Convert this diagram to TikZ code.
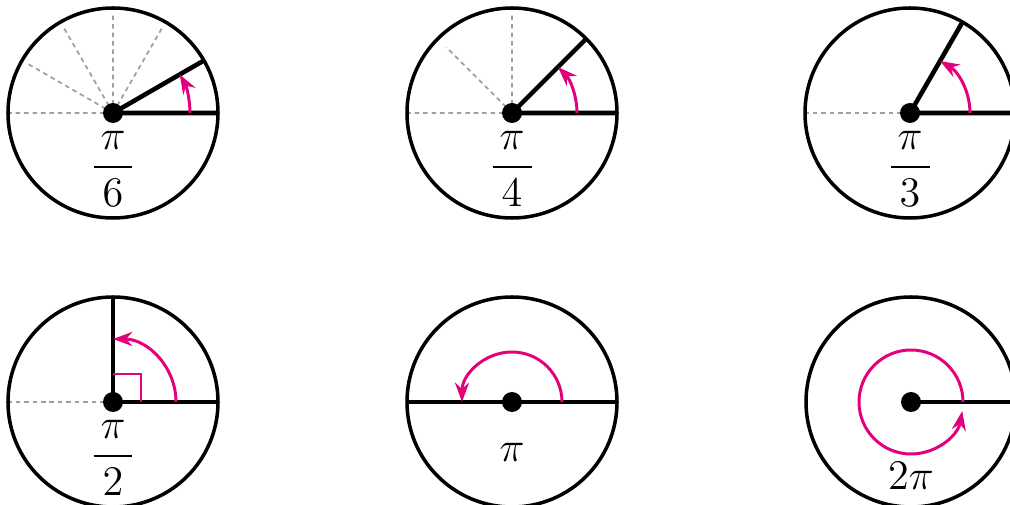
\documentclass[tikz,border=0pt]{standalone}
\usepackage{amsmath}
\usetikzlibrary{arrows.meta}
\definecolor{turnpink}{RGB}{228,0,124}

\begin{document}
\begin{tikzpicture}[
  rim/.style={line width=1pt},
  side/.style={line width=1.3pt},
  guide/.style={dash pattern=on 1.3pt off 1.1pt, gray!75, line width=0.5pt},
  turn/.style={turnpink, line width=0.85pt, -{Stealth[length=5.5pt,width=4pt]}},
  hub/.style={circle, fill, inner sep=0pt, minimum size=2mm},
  lbl/.style={font=\large}]

\useasboundingbox (0,0) rectangle (10.1,5.05);

% Centres
\coordinate (O1) at (1.13,3.92);
\coordinate (O2) at (5.12,3.92);
\coordinate (O3) at (9.10,3.92);
\coordinate (O4) at (1.13,1.03);
\coordinate (O5) at (5.12,1.03);
\coordinate (O6) at (9.11,1.03);

% pi/6
\draw[guide] (O1) -- ++(60:0.98) (O1) -- ++(90:0.98) (O1) -- ++(120:0.98)
  (O1) -- ++(150:0.98) (O1) -- ++(180:1.03);
\draw[rim] (O1) circle (1.05);
\draw[side] (O1) -- ++(0:1.05) (O1) -- ++(30:1.05);
\draw[turn] ([shift={(0:0.77)}]O1) arc (0:30:0.77);
\node[hub] (c1) at (O1) {};
\node[lbl] (l1) at ([yshift=-0.56cm]O1) {$\dfrac{\,\pi\,}{\,6\,}$};

% pi/4
\draw[guide] (O2) -- ++(90:0.98) (O2) -- ++(135:0.93) (O2) -- ++(180:1.03);
\draw[rim] (O2) circle (1.05);
\draw[side] (O2) -- ++(0:1.05) (O2) -- ++(45:1.05);
\draw[turn] ([shift={(0:0.65)}]O2) arc (0:45:0.65);
\node[hub] (c2) at (O2) {};
\node[lbl] (l2) at ([yshift=-0.56cm]O2) {$\dfrac{\,\pi\,}{\,4\,}$};

% pi/3
\draw[guide] (O3) -- ++(180:1.03);
\draw[rim] (O3) circle (1.05);
\draw[side] (O3) -- ++(0:1.05) (O3) -- ++(60:1.05);
\draw[turn] ([shift={(0:0.6)}]O3) arc (0:60:0.6);
\node[hub] (c3) at (O3) {};
\node[lbl] (l3) at ([yshift=-0.56cm]O3) {$\dfrac{\,\pi\,}{\,3\,}$};

% pi/2
\draw[guide] (O4) -- ++(180:1.03);
\draw[rim] (O4) circle (1.05);
\draw[side] (O4) -- ++(0:1.05) (O4) -- ++(90:1.05);
\draw[turnpink, line width=0.8pt] ([shift={(0.28,0)}]O4) |- ([shift={(0,0.28)}]O4);
\draw[turn] ([shift={(0:0.63)}]O4) arc (0:90:0.63);
\node[hub] (c4) at (O4) {};
\node[lbl] (l4) at ([yshift=-0.56cm]O4) {$\dfrac{\,\pi\,}{\,2\,}$};

% pi
\draw[rim] (O5) circle (1.05);
\draw[side] ([shift={(180:1.05)}]O5) -- ([shift={(0:1.05)}]O5);
\draw[turn] ([shift={(0:0.5)}]O5) arc (0:180:0.5);
\node[hub] (c5) at (O5) {};
\node[lbl] (l5) at ([yshift=-0.5cm]O5) {$\pi$};

% 2pi
\draw[rim] (O6) circle (1.05);
\draw[side] (O6) -- ++(0:1.05);
\draw[turn] ([shift={(0:0.52)}]O6) arc (0:350:0.52);
\node[hub] (c6) at (O6) {};
\node[lbl] (l6) at ([yshift=-0.74cm]O6) {$2\pi$};

\end{tikzpicture}
\end{document}
